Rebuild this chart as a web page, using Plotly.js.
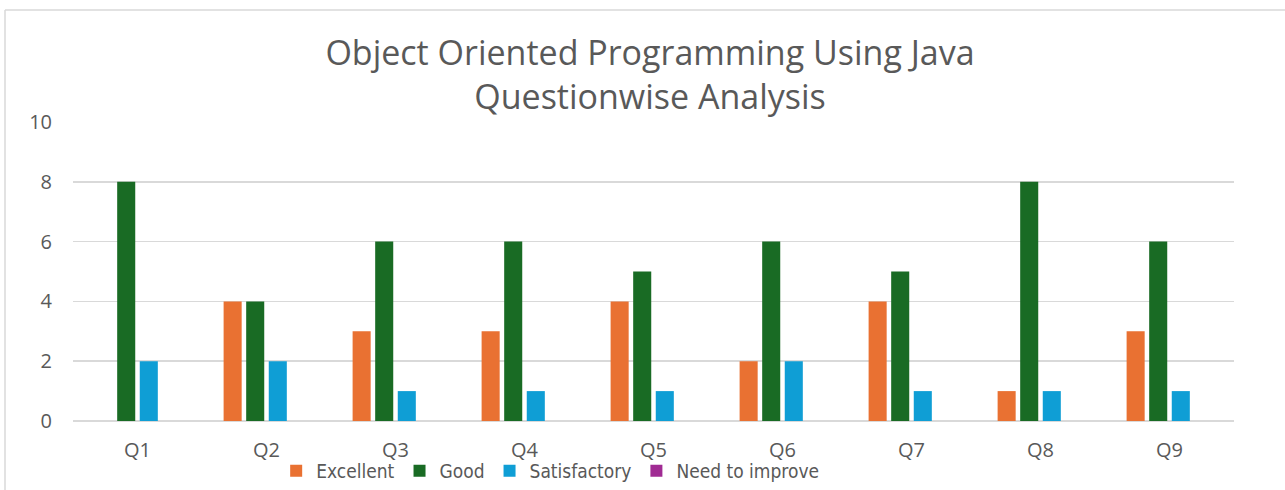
<!DOCTYPE html>
<html>
<head>
<meta charset="utf-8">
<script src="https://cdn.plot.ly/plotly-3.0.1.min.js"></script>
<style>
  html, body { margin: 0; padding: 0; background: #fff; }
  #chart { width: 1285px; height: 490px; }
</style>
</head>
<body>
<div id="chart"></div>
<script>
const categories = ["Q1", "Q2", "Q3", "Q4", "Q5", "Q6", "Q7", "Q8", "Q9"];
const excellent = [0, 4, 3, 3, 4, 2, 4, 1, 3];
const good = [8, 4, 6, 6, 5, 6, 5, 8, 6];
const satisfactory = [2, 2, 1, 1, 1, 2, 1, 1, 1];
const needToImprove = [0, 0, 0, 0, 0, 0, 0, 0, 0];
const yTicks = [0, 2, 4, 6, 8, 10];

const seriesNames = ["Excellent", "Good", "Satisfactory", "Need to improve"];
const seriesValues = [excellent, good, satisfactory, needToImprove];
const seriesColors = ["#E97132", "#196B24", "#0F9ED5", "#A02B93"];

const traces = seriesNames.map((name, i) => ({
  type: "bar",
  name: name,
  x: categories,
  y: seriesValues[i],
  marker: { color: seriesColors[i], line: { width: 0 } },
  hoverinfo: "x+y+name"
}));

const textColor = "#595959";
const layout = {
  width: 1285,
  height: 490,
  margin: { l: 73, r: 51, t: 122, b: 69 },
  paper_bgcolor: "#ffffff",
  plot_bgcolor: "#ffffff",
  font: { family: "'Open Sans', Roboto, sans-serif", color: textColor },
  title: {
    text: "Object Oriented Programming Using Java<br>Questionwise Analysis",
    font: { family: "'Open Sans', sans-serif", size: 34, color: textColor },
    xref: "paper", x: 0.497, xanchor: "center",
    yref: "container", y: 0.868, yanchor: "middle"
  },
  barmode: "group",
  bargap: 0.30,
  bargroupgap: 0.2,
  xaxis: {
    type: "category",
    showgrid: false,
    zeroline: false,
    showline: false,
    ticks: "outside",
    ticklen: 11,
    tickcolor: "rgba(0,0,0,0)",
    tickfont: { family: "'Open Sans', sans-serif", size: 20, color: textColor }
  },
  yaxis: {
    range: [0, 10],
    tickvals: yTicks,
    ticktext: yTicks.map(String),
    showgrid: true,
    gridcolor: "#d9d9d9",
    gridwidth: 1.5,
    zeroline: true,
    zerolinecolor: "#d9d9d9",
    zerolinewidth: 1.5,
    showline: false,
    ticks: "outside",
    ticklen: 16,
    tickcolor: "rgba(0,0,0,0)",
    tickfont: { family: "'Open Sans', sans-serif", size: 20, color: textColor }
  },
  showlegend: true,
  legend: {
    orientation: "h",
    xref: "paper", x: 0.175, xanchor: "left",
    yref: "container", y: 1 - 471 / 490, yanchor: "middle",
    font: { family: "'DejaVu Sans Condensed', 'DejaVu Sans', sans-serif", size: 19, color: textColor },
    itemwidth: 30,
    bgcolor: "rgba(0,0,0,0)"
  },
  shapes: [
    { type: "line", xref: "paper", yref: "paper",
      x0: (5 - 73) / 1161, x1: 1.1, y0: (421 - 10) / 299, y1: (421 - 10) / 299,
      line: { color: "#d9d9d9", width: 1.5 } },
    { type: "line", xref: "paper", yref: "paper",
      x0: (5 - 73) / 1161, x1: (5 - 73) / 1161, y0: (421 - 10) / 299, y1: -0.5,
      line: { color: "#d9d9d9", width: 1.5 } }
  ]
};

Plotly.newPlot("chart", traces, layout, { displayModeBar: false, staticPlot: true });
</script>
</body>
</html>
